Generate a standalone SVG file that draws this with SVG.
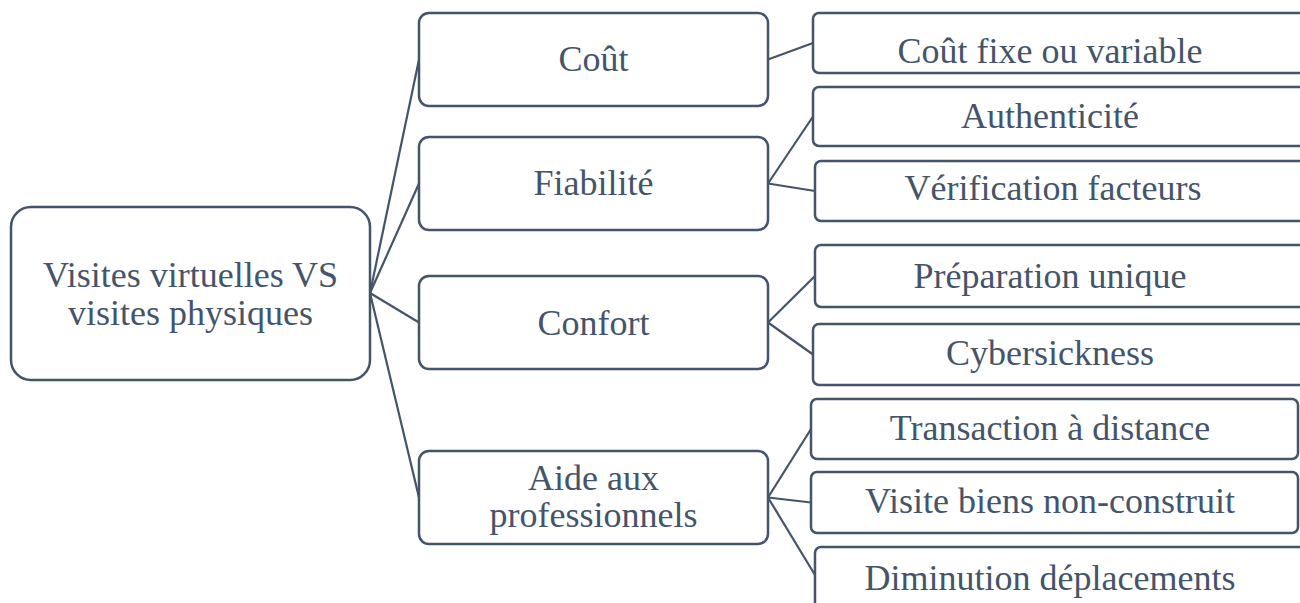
<svg xmlns="http://www.w3.org/2000/svg" width="1300" height="603" viewBox="0 0 1300 603">
<style>
.box{fill:#ffffff;stroke:#44546A;stroke-width:2.5}
.t{font-family:"Liberation Serif","Times New Roman",serif;font-size:36px;fill:#44546A;text-anchor:middle}
.c{stroke:#44546A;stroke-width:2.2;fill:none}
</style>
<rect width="1300" height="603" fill="#ffffff"/>
<g id="connectors">
<line class="c" x1="370" y1="293" x2="419" y2="59.5"/>
<line class="c" x1="370" y1="293" x2="419" y2="183.5"/>
<line class="c" x1="370" y1="293" x2="419" y2="322.5"/>
<line class="c" x1="370" y1="293" x2="419" y2="497.5"/>
<line class="c" x1="768" y1="59.5" x2="813" y2="43"/>
<line class="c" x1="768" y1="183.5" x2="813" y2="116.5"/>
<line class="c" x1="768" y1="183.5" x2="815" y2="191"/>
<line class="c" x1="768" y1="322.5" x2="815" y2="276"/>
<line class="c" x1="768" y1="322.5" x2="813" y2="354.5"/>
<line class="c" x1="768" y1="497.5" x2="811" y2="429"/>
<line class="c" x1="768" y1="497.5" x2="811" y2="502.5"/>
<line class="c" x1="768" y1="497.5" x2="815" y2="575"/>
</g>
<g id="root">
<rect class="box" x="11" y="207" width="359" height="173" rx="20"/>
<text class="t" x="190.5" y="287">Visites virtuelles VS</text>
<text class="t" x="190.5" y="325">visites physiques</text>
</g>
<g id="cout">
<rect class="box" x="419" y="13" width="349" height="93" rx="10"/>
<text class="t" x="593.5" y="71">Coût</text>
</g>
<g id="fiabilite">
<rect class="box" x="419" y="137" width="349" height="93" rx="10"/>
<text class="t" x="593.5" y="195">Fiabilité</text>
</g>
<g id="confort">
<rect class="box" x="419" y="276" width="349" height="93" rx="10"/>
<text class="t" x="593.5" y="335">Confort</text>
</g>
<g id="aide">
<rect class="box" x="419" y="451" width="349" height="93" rx="10"/>
<text class="t" x="593.5" y="490">Aide aux</text>
<text class="t" x="593.5" y="527">professionnels</text>
</g>
<g id="cout-fixe">
<rect class="box" x="813" y="13" width="500" height="60" rx="6"/>
<text class="t" x="1050" y="63">Coût fixe ou variable</text>
</g>
<g id="authenticite">
<rect class="box" x="813" y="87" width="500" height="59" rx="6"/>
<text class="t" x="1050" y="128">Authenticité</text>
</g>
<g id="verification">
<rect class="box" x="815" y="161" width="500" height="60" rx="6"/>
<text class="t" x="1053" y="200">Vérification facteurs</text>
</g>
<g id="preparation">
<rect class="box" x="815" y="245" width="500" height="62" rx="6"/>
<text class="t" x="1050" y="288">Préparation unique</text>
</g>
<g id="cybersickness">
<rect class="box" x="813" y="324" width="500" height="61" rx="6"/>
<text class="t" x="1050" y="365">Cybersickness</text>
</g>
<g id="transaction">
<rect class="box" x="811" y="399" width="487" height="60" rx="6"/>
<text class="t" x="1050" y="440">Transaction à distance</text>
</g>
<g id="visite-biens">
<rect class="box" x="811" y="472" width="487" height="61" rx="6"/>
<text class="t" x="1050" y="513">Visite biens non-construit</text>
</g>
<g id="diminution">
<rect class="box" x="815" y="547" width="500" height="62" rx="6"/>
<text class="t" x="1050" y="590">Diminution déplacements</text>
</g>
</svg>
